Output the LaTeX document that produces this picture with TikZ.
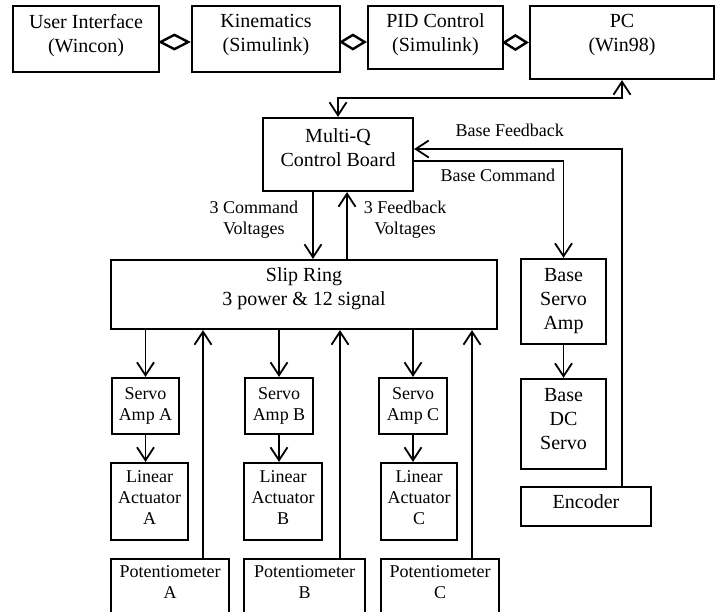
\documentclass[tikz,border=0pt]{standalone}
\usepackage{fontspec}
\setmainfont{Liberation Serif}
\usetikzlibrary{arrows.meta}
\newcommand{\bigtxt}{\fontsize{20}{24}\selectfont}
\newcommand{\smalltxt}{\fontsize{18}{21}\selectfont}
\newcommand{\lowpad}[1]{\rule[-#1]{0pt}{#1}}

\begin{document}
\begin{tikzpicture}[x=1pt,y=-1pt,>={Straight Barb[length=13pt,width=17pt]},
  blk/.style={draw,line width=2.2pt,align=center,inner sep=0pt,font=\bigtxt},
  sblk/.style={blk,font=\smalltxt},
  lbl/.style={align=center,inner sep=1pt,font=\smalltxt},
  link/.style={line width=1.8pt},
  dmd/.style={line width=2.4pt,-{Diamond[open,length=#1,width=17pt]}}]
\useasboundingbox (0,0) rectangle (720,611);
\clip (0,0) rectangle (720,611);

\node[blk,minimum width=146pt,minimum height=66pt] (UI) at (86,39) {User Interface\\(Wincon)\lowpad{12pt}};
\node[blk,minimum width=148pt,minimum height=66pt] (Kin) at (266,39) {Kinematics\\(Simulink)\lowpad{12pt}};
\node[blk,minimum width=135pt,minimum height=63pt] (PID) at (435.5,37.5) {PID Control\\(Simulink)\lowpad{10pt}};
\node[blk,minimum width=184pt,minimum height=73pt] (PC) at (622,42.5) {PC\\(Win98)\lowpad{20pt}};

\node[blk,minimum width=150pt,minimum height=73pt] (MQ) at (338,154.5) {Multi-Q\\Control Board\lowpad{13pt}};
\node[blk,minimum width=386pt,minimum height=69pt] (Slip) at (304,294.5) {Slip Ring\\3 power \& 12 signal\lowpad{16pt}};

\node[sblk,minimum width=67pt,minimum height=56pt] (SA-1) at (145.5,406) {Servo\\Amp A};
\node[sblk,minimum width=68pt,minimum height=56pt] (SA-2) at (279,406) {Servo\\Amp B};
\node[sblk,minimum width=68pt,minimum height=56pt] (SA-3) at (413,406) {Servo\\Amp C};

\node[sblk,minimum width=77pt,minimum height=77pt] (LA-1) at (149.5,501.5) {Linear\\Actuator\\A\lowpad{7pt}};
\node[sblk,minimum width=78pt,minimum height=77pt] (LA-2) at (283,501.5) {Linear\\Actuator\\B\lowpad{7pt}};
\node[sblk,minimum width=76pt,minimum height=77pt] (LA-3) at (419,501.5) {Linear\\Actuator\\C\lowpad{7pt}};

\node[sblk,minimum width=118pt,minimum height=56pt] (PM-1) at (170,587) {Potentiometer\\A\lowpad{10pt}};
\node[sblk,minimum width=121pt,minimum height=56pt] (PM-2) at (304.5,587) {Potentiometer\\B\lowpad{10pt}};
\node[sblk,minimum width=118pt,minimum height=56pt] (PM-3) at (440,587) {Potentiometer\\C\lowpad{10pt}};

\node[blk,minimum width=85pt,minimum height=85pt] (BSA) at (563.5,301.5) {Base\\Servo\\Amp};
\node[blk,minimum width=85pt,minimum height=90pt] (BDC) at (563.5,424) {Base\\DC\\Servo\lowpad{10pt}};
\node[blk,minimum width=130pt,minimum height=39pt] (Enc) at (586,506.5) {Encoder\lowpad{10pt}};

% top row
\draw[dmd=33pt] ([yshift=-3pt]UI.east) -- ([yshift=-3pt]Kin.west);
\draw[dmd=28pt] ([yshift=-3pt]Kin.east) -- ([yshift=-3pt]Kin.east -| PID.west);
\draw[dmd=27pt] (PC.west -| PID.east) -- (PC.west);
\draw[link,<->] (PC.south) -- ++(0,18) -| (MQ.north);

% board and slip ring
\draw[link,->] ([xshift=-25pt]MQ.south) -- node[lbl,left=13pt,pos=0.42] {3 Command\\Voltages} ([xshift=-25pt]MQ.south |- Slip.north);
\draw[link,->] ([xshift=9pt]MQ.south |- Slip.north) -- node[lbl,right=15pt,pos=0.58] {3 Feedback\\Voltages} ([xshift=9pt]MQ.south);

% base axis
\draw[link,->] ([yshift=-6.5pt]MQ.east) -| node[lbl,pos=0.28,below=6pt] {Base Command} (BSA.north);
\draw[link,->] (BSA) -- (BDC);
\draw[link,->] ([xshift=36pt]Enc.north) |- node[lbl,pos=0.77,above=10pt] {Base Feedback} ([yshift=5.5pt]MQ.east);

% legs
\draw[link,->] (Slip.south -| SA-1.north) -- (SA-1.north);
\draw[link,->] (SA-1.south) -- (SA-1.south |- LA-1.north);
\draw[link,->] ([xshift=33pt]PM-1.north) -- ([xshift=33pt]PM-1.north |- Slip.south);

\draw[link,->] (Slip.south -| SA-2.north) -- (SA-2.north);
\draw[link,->] (SA-2.south) -- (SA-2.south |- LA-2.north);
\draw[link,->] ([xshift=35.5pt]PM-2.north) -- ([xshift=35.5pt]PM-2.north |- Slip.south);

\draw[link,->] (Slip.south -| SA-3.north) -- (SA-3.north);
\draw[link,->] (SA-3.south) -- (SA-3.south |- LA-3.north);
\draw[link,->] ([xshift=32pt]PM-3.north) -- ([xshift=32pt]PM-3.north |- Slip.south);
\end{tikzpicture}
\end{document}
